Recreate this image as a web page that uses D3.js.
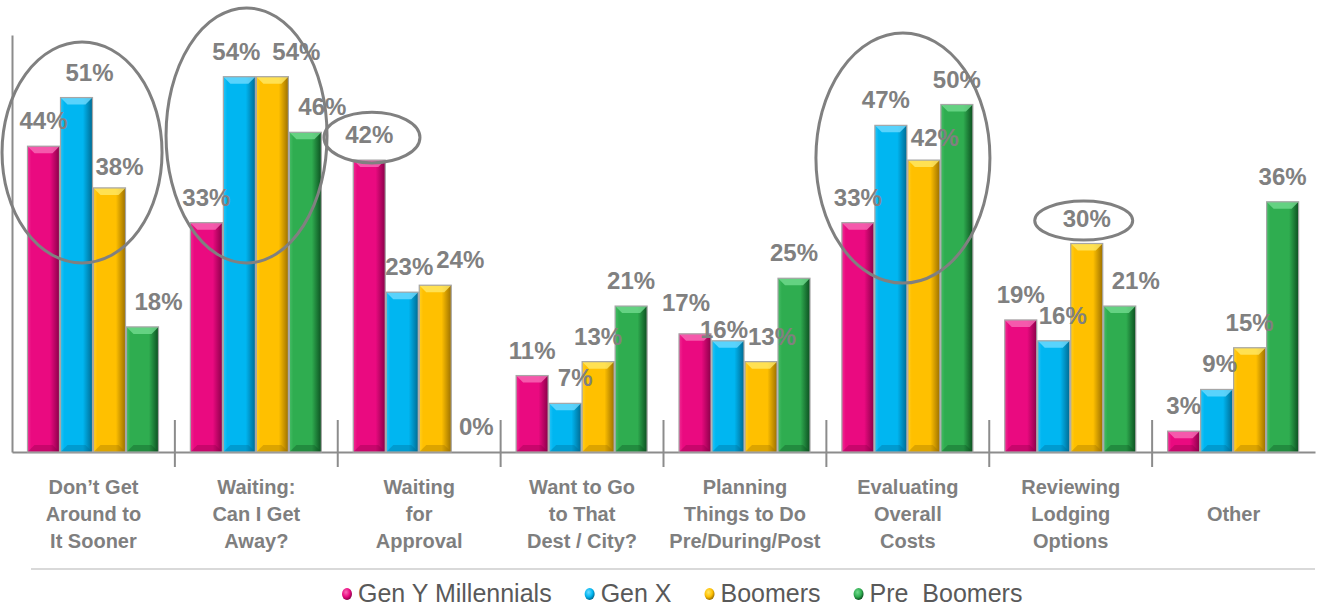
<!DOCTYPE html>
<html>
<head>
<meta charset="utf-8">
<script src="https://cdn.jsdelivr.net/npm/d3@7"></script>
<style>
  body { margin: 0; background: #fff; }
  text { font-family: "Liberation Sans", Arial, sans-serif; }
</style>
</head>
<body>
<div id="div_chart"></div>
<script>
// categories, one entry per line of the label
var categories = [
    ["Don’t Get", "Around to", "It Sooner"],
    ["Waiting:", "Can I Get", "Away?"],
    ["Waiting", "for", "Approval"],
    ["Want to Go", "to That", "Dest / City?"],
    ["Planning", "Things to Do", "Pre/During/Post"],
    ["Evaluating", "Overall", "Costs"],
    ["Reviewing", "Lodging", "Options"],
    ["Other"]
];
var seriesNames = ["Gen Y Millennials", "Gen X", "Boomers", "Pre  Boomers"];

var genY = [44, 33, 42, 11, 17, 33, 19, 3];
var genX = [51, 54, 23, 7, 16, 47, 16, 9];
var boomers = [38, 54, 24, 13, 13, 42, 30, 15];
var preBoomers = [18, 46, 0, 21, 25, 50, 21, 36];

var values = [genY, genX, boomers, preBoomers];

// circled call-outs: category, place across the band, value range, width
var circled = [
    { cat: 0, at: 0.43, top: 59, bottom: 27.2, w: 160 },
    { cat: 1, at: 0.44, top: 63.9, bottom: 27.2, w: 161 },
    { cat: 2, at: 0.21, top: 48.9, bottom: 41.6, w: 96 },
    { cat: 5, at: 0.47, top: 60.3, bottom: 24.3, w: 174 },
    { cat: 6, at: 0.58, top: 36.1, bottom: 30.5, w: 98 }
];

// label nudges so they sit like the original (px)
var labelDx = [
    [0, 13, 10, 16], [0, -3, 24, 17], [0, 7, 25, 8], [0, 10, 0, 0],
    [-9, -4, 11, 0], [0, -5, 11, 0], [0, 9, 0, 16], [0, 3, 0, 0]
];
var labelDy = [
    [0, 0, 4, 0], [0, 0, 0, 0], [0, 0, 0, 0], [0, 0, 0, 0],
    [-6, 14, 0, 0], [0, 0, 3, 0], [0, 0, 0, 0], [0, 0, 0, 0]
];

var colors = [
    { base: "#EA0A80", light: "#F86DB7", dark: "#8A0049" },
    { base: "#00B6F1", light: "#6FDBFF", dark: "#006A92" },
    { base: "#FFC000", light: "#FFE866", dark: "#9C7000" },
    { base: "#2FAD50", light: "#72DB8E", dark: "#0C4F20" }
];

var width = 1317, height = 607;
var plotLeft = 12, plotRight = 1315, plotBottom = 452, plotTop = 35;

var svg = d3.select("#div_chart").append("svg")
    .attr("width", width)
    .attr("height", height);

var defs = svg.append("defs");
colors.forEach(function (c, i) {
    var g = defs.append("linearGradient").attr("id", "bar" + i)
        .attr("x1", "0%").attr("x2", "100%").attr("y1", "0%").attr("y2", "0%");
    g.append("stop").attr("offset", "0%").attr("stop-color", d3.interpolateRgb(c.base, c.light)(0.35));
    g.append("stop").attr("offset", "12%").attr("stop-color", c.base);
    g.append("stop").attr("offset", "70%").attr("stop-color", c.base);
    g.append("stop").attr("offset", "100%").attr("stop-color", c.dark);

    var r = defs.append("radialGradient").attr("id", "dot" + i)
        .attr("cx", "40%").attr("cy", "35%").attr("r", "65%");
    r.append("stop").attr("offset", "0%").attr("stop-color", c.light);
    r.append("stop").attr("offset", "60%").attr("stop-color", c.base);
    r.append("stop").attr("offset", "100%").attr("stop-color", c.dark);
});

// Scales
var x0 = d3.scaleBand().domain(d3.range(categories.length)).range([plotLeft, plotRight]).padding(0);
var x1 = d3.scaleBand().domain(d3.range(seriesNames.length)).range([15, 147]).padding(0);
var y = d3.scaleLinear().domain([0, 60]).range([plotBottom, plotTop]);

// Axes
svg.append("g").attr("class", "y axis")
    .attr("transform", "translate(" + plotLeft + ",0)")
    .call(d3.axisLeft(y).ticks(0).tickSizeOuter(0))
    .call(g => g.select(".domain").attr("stroke", "#8c8c8c").attr("stroke-width", 2));

var xAxis = svg.append("g").attr("class", "x axis")
    .attr("transform", "translate(0," + plotBottom + ")")
    .call(d3.axisBottom(x0).tickSize(0).tickSizeOuter(0).tickFormat(""));
xAxis.select(".domain").attr("stroke", "#8c8c8c").attr("stroke-width", 2);

// tick marks between categories
xAxis.selectAll("line.sep").data(d3.range(1, categories.length))
    .enter().append("line").attr("class", "sep")
    .attr("x1", d => x0(d)).attr("x2", d => x0(d))
    .attr("y1", -32).attr("y2", 15)
    .attr("stroke", "#8c8c8c").attr("stroke-width", 2);

// category labels
var catText = svg.selectAll("text.cat").data(categories)
    .enter().append("text").attr("class", "cat")
    .attr("text-anchor", "middle")
    .attr("font-size", "20px")
    .attr("font-weight", "bold")
    .attr("fill", "#7f7f7f");
catText.each(function (lines, i) {
    var t = d3.select(this);
    var start = lines.length == 1 ? 1 : 0;
    lines.forEach(function (line, k) {
        t.append("tspan")
            .attr("x", x0(i) + x0.bandwidth() / 2)
            .attr("y", 494 + (start + k) * 27)
            .text(line);
    });
});

// Chart
var points = [];
categories.forEach(function (c, i) {
    values.forEach(function (s, j) {
        points.push({ cat: i, s: j, v: s[i] });
    });
});

var barLayer = svg.append("g").attr("class", "bars");
var bars = barLayer.selectAll("g.bar").data(points.filter(d => d.v > 0))
    .enter().append("g").attr("class", "bar")
    .attr("transform", d => "translate(" + x0(d.cat) + ",0)");

bars.each(function (d) {
    var g = d3.select(this);
    var x = x1(d.s) + 0.5, w = x1.bandwidth() - 1;
    var yt = y(d.v), h = y(0) - y(d.v);
    var c = colors[d.s];
    var b = Math.min(7, h / 2);
    g.append("rect")
        .attr("x", x).attr("y", yt).attr("width", w).attr("height", h)
        .attr("fill", "url(#bar" + d.s + ")");
    // top bevel
    g.append("path")
        .attr("d", "M" + x + "," + yt + "L" + (x + w) + "," + yt +
            "L" + (x + w - b) + "," + (yt + b) + "L" + (x + b) + "," + (yt + b) + "Z")
        .attr("fill", c.light).attr("opacity", 0.8);
    // bottom bevel
    g.append("path")
        .attr("d", "M" + x + "," + (yt + h) + "L" + (x + w) + "," + (yt + h) +
            "L" + (x + w - b) + "," + (yt + h - b) + "L" + (x + b) + "," + (yt + h - b) + "Z")
        .attr("fill", c.dark).attr("opacity", 0.35);
    g.append("rect")
        .attr("x", x).attr("y", yt).attr("width", w).attr("height", h)
        .attr("fill", "none").attr("stroke", "#a6a6a6").attr("stroke-width", 1.2);
});

// value labels, on top of every bar
svg.append("g").attr("class", "labels")
    .selectAll("text").data(points)
    .enter().append("text")
    .attr("x", d => x0(d.cat) + x1(d.s) + x1.bandwidth() / 2 + labelDx[d.cat][d.s])
    .attr("y", d => y(d.v) - 17 + labelDy[d.cat][d.s])
    .attr("text-anchor", "middle")
    .attr("font-size", "24px")
    .attr("font-weight", "bold")
    .attr("fill", "#808080")
    .text(d => d.v + "%");

// circled call-outs
svg.selectAll("ellipse.callout").data(circled)
    .enter().append("ellipse").attr("class", "callout")
    .attr("cx", d => x0(d.cat) + d.at * x0.bandwidth())
    .attr("cy", d => (y(d.top) + y(d.bottom)) / 2)
    .attr("rx", d => d.w / 2)
    .attr("ry", d => (y(d.bottom) - y(d.top)) / 2)
    .attr("fill", "none")
    .attr("stroke", "#808080")
    .attr("stroke-width", 3);

// legend
svg.append("line")
    .attr("x1", 31).attr("x2", 1315).attr("y1", 569).attr("y2", 569)
    .attr("stroke", "#d9d9d9").attr("stroke-width", 2);

var legend = svg.append("g").attr("class", "legend");
var lx = 347;
seriesNames.forEach(function (name, i) {
    legend.append("ellipse")
        .attr("cx", lx).attr("cy", 594).attr("rx", 5).attr("ry", 6)
        .attr("fill", "url(#dot" + i + ")");
    var t = legend.append("text")
        .attr("x", lx + 11).attr("y", 602)
        .attr("font-size", "25px")
        .attr("fill", "#595959")
        .style("white-space", "pre")
        .text(name);
    lx = lx + 11 + t.node().getComputedTextLength() + 38;
});
</script>
</body>
</html>
